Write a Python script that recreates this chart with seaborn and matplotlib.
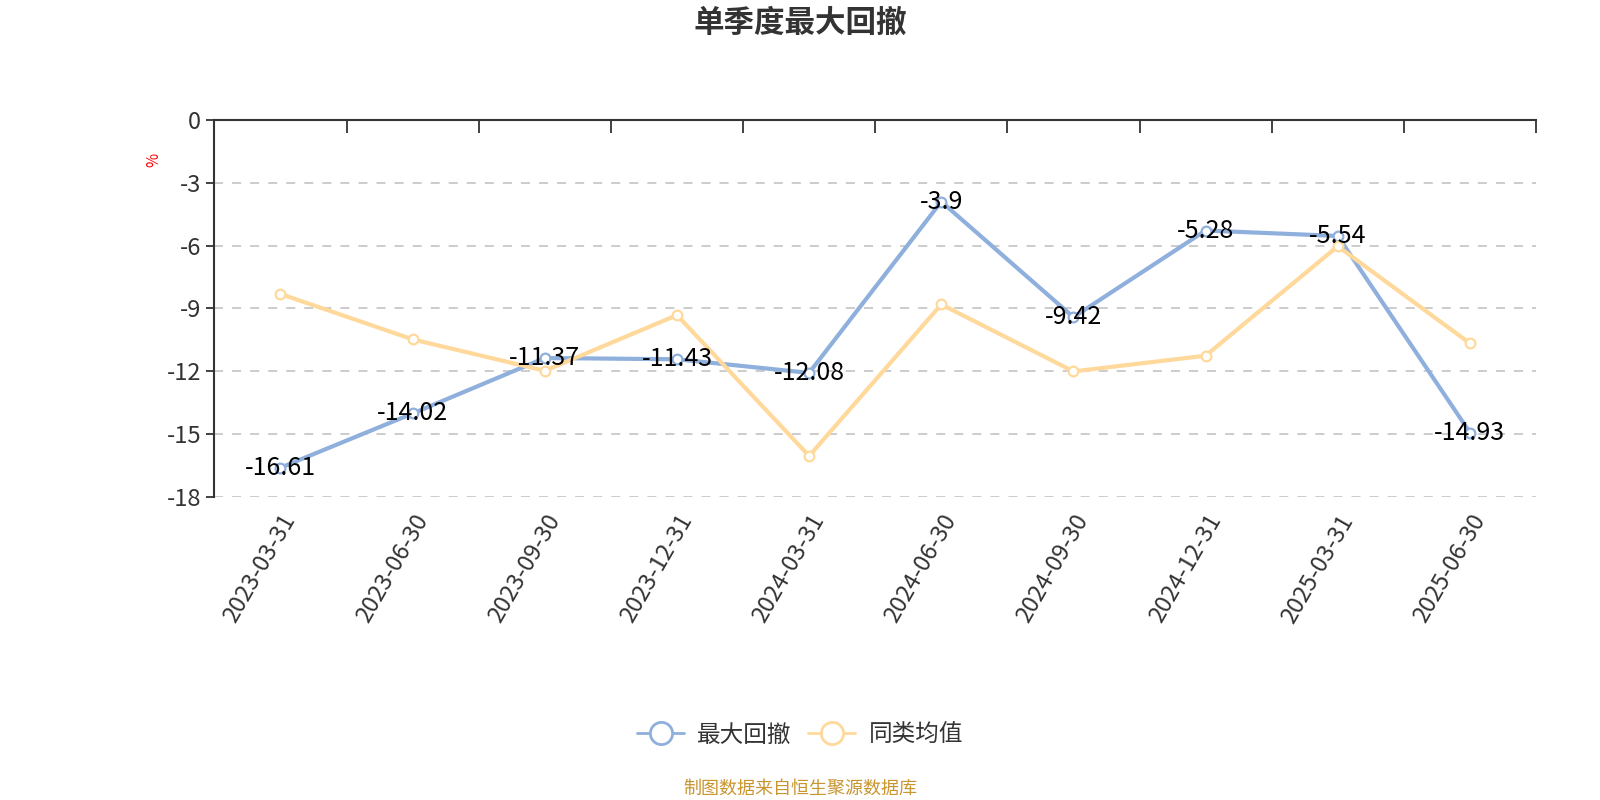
import numpy as np
import pandas as pd
import seaborn as sns
import matplotlib.pyplot as plt
from matplotlib.lines import Line2D

# quarter-end dates and the two series (values in %)
dates = ['2023-03-31', '2023-06-30', '2023-09-30', '2023-12-31', '2024-03-31',
         '2024-06-30', '2024-09-30', '2024-12-31', '2025-03-31', '2025-06-30']
max_drawdown = [-16.61, -14.02, -11.37, -11.43, -12.08, -3.9, -9.42, -5.28, -5.54, -14.93]
peer_avg = [-8.31, -10.48, -11.98, -9.32, -16.05, -8.81, -12.01, -11.26, -6.03, -10.67]
series_names = ['最大回撤', '同类均值']
y_ticks = [0, -3, -6, -9, -12, -15, -18]

colors = {'最大回撤': '#8FAFDC', '同类均值': '#FFD99B'}

sns.set_theme(style='white')
plt.rcParams['font.family'] = ['Noto Sans CJK SC', 'DejaVu Sans']

df = pd.DataFrame({
    'date': dates * 2,
    'value': max_drawdown + peer_avg,
    'series': [series_names[0]] * len(dates) + [series_names[1]] * len(dates),
})

fig = plt.figure(figsize=(16, 8), dpi=100)
ax = fig.add_axes([0.134, 0.379, 0.826, 0.471])

sns.lineplot(data=df, x='date', y='value', hue='series', palette=colors,
             marker='o', markersize=7, linewidth=3, sort=False,
             legend=False, ax=ax)
for line in ax.lines:
    line.set_markerfacecolor('white')
    line.set_markeredgecolor(line.get_color())
    line.set_markeredgewidth(1.6)

# value labels for the main series
for i, v in enumerate(max_drawdown):
    ax.annotate('%g' % v, (i, v), xytext=(0, 0), textcoords='offset points',
                ha='center', va='center', fontsize=18, color='black', zorder=10)

### axes styling ###
ax.set_xlim(-0.5, len(dates) - 0.5)
ax.set_ylim(-18, 0)
ax.set_yticks(y_ticks)
ax.set_yticklabels([str(t) for t in y_ticks])
ax.set_xticks(range(len(dates)))
ax.set_xticklabels(dates, rotation=60, ha='right', rotation_mode='anchor')
ax.set_xticks(np.arange(-0.5, len(dates)), minor=True)
ax.tick_params(axis='x', which='major', bottom=False, top=False, labelsize=17,
               labelcolor='#333333', pad=4)
ax.tick_params(axis='x', which='minor', top=True, bottom=False, direction='in',
               length=9, width=1.3, color='#333333')
ax.tick_params(axis='y', which='major', left=True, length=6, width=1.3,
               color='#333333', labelsize=17, labelcolor='#333333')
ax.set_xlabel('')
ax.set_ylabel('')

for t in y_ticks[1:]:
    ax.axhline(t, color='#c8c8c8', linestyle=(0, (5, 5)), linewidth=1.3, zorder=0)

for side in ['right', 'bottom']:
    ax.spines[side].set_visible(False)
for side in ['left', 'top']:
    ax.spines[side].set_color('#333333')
    ax.spines[side].set_linewidth(1.5)

fig.text(0.096, 0.8, '%', color='red', rotation=90, fontsize=11, ha='center', va='center')

fig.text(0.5, 0.972, '单季度最大回撤', fontsize=22, fontweight='bold', color='#333333',
         ha='center', va='center')

handles = [Line2D([0], [0], color=colors[n], linewidth=2, marker='o', markersize=16,
                  markerfacecolor='white', markeredgewidth=2) for n in series_names]
fig.legend(handles, series_names, loc='center', bbox_to_anchor=(0.5, 0.081), ncol=2,
           frameon=False, fontsize=17, handlelength=2.0, columnspacing=0.7,
           handletextpad=0.55, labelcolor='#333333')

fig.text(0.5, 0.014, '制图数据来自恒生聚源数据库', fontsize=13, color='#C9952E',
         ha='center', va='center')

fig.savefig('out.png', dpi=100)
